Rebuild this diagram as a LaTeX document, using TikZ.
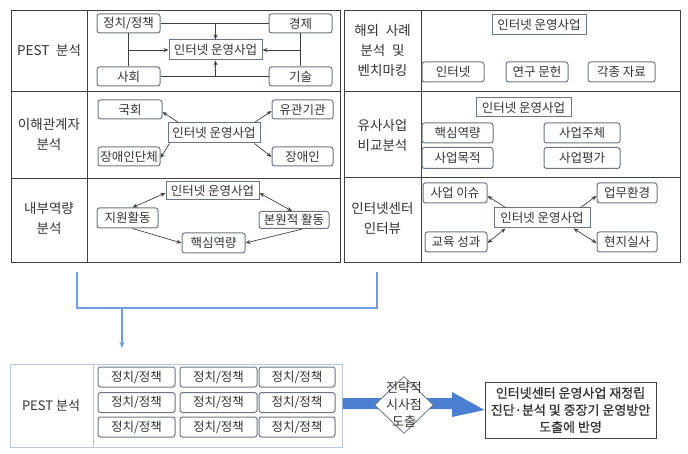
\documentclass[tikz,border=0pt]{standalone}
\usepackage{fontspec}
\setmainfont{Noto Sans CJK KR}
\newfontfamily\semib[FakeBold=0.8]{Noto Sans CJK KR}
\usetikzlibrary{arrows.meta,shapes.geometric,calc}
\definecolor{linec}{HTML}{404040}
\definecolor{boxc}{HTML}{6A7685}
\definecolor{txt}{HTML}{333333}
\definecolor{bluel}{HTML}{6D9EE0}
\definecolor{blueb}{HTML}{4A7FD4}
\definecolor{tabb}{HTML}{B4C7DC}
\tikzset{
  rbox/.style={draw=boxc, rounded corners=2.5pt, line width=1pt, inner sep=0pt,
    minimum height=20pt, text=txt, font=\fontsize{12.5}{14}\selectfont, fill=white},
  sbox/.style={rbox, rounded corners=0pt},
  lab/.style={text=txt, font=\fontsize{13.5}{20}\selectfont, align=center},
  tline/.style={draw=linec, line width=0.9pt},
  conn/.style={draw=linec, line width=0.7pt},
  arr/.style={conn, -{Stealth[length=5pt,width=4pt]}},
  darr/.style={conn, {Stealth[length=5pt,width=4pt]}-{Stealth[length=5pt,width=4pt]}},
  bconn/.style={draw=bluel, line width=1.2pt}
}
\begin{document}
\begin{tikzpicture}[x=1pt,y=-1pt]
\useasboundingbox (0,0) rectangle (688,454);

% ---------- left table ----------
\draw[tline] (11,10) rectangle (340,262);
\draw[tline] (87,10) -- (87,262);
\draw[tline] (11,91) -- (340,91);
\draw[tline] (11,178) -- (340,178);

% right table
\draw[tline] (344,10) rectangle (680,262);
\draw[tline] (421,10) -- (421,262);
\draw[tline] (344,91) -- (680,91);
\draw[tline] (344,177) -- (680,177);

% ---------- row 1 left: PEST ----------
\node[lab] (l1) at (49,50) {PEST\enspace 분석};
\node[rbox, minimum width=63pt, minimum height=19pt] (p1) at (128.5,23.5) {정치/정책};
\node[rbox, minimum width=63pt, minimum height=19pt] (p2) at (300.5,23.5) {경제};
\node[rbox, minimum width=63pt, minimum height=19pt] (p3) at (128.5,76.5) {사회};
\node[rbox, minimum width=63pt, minimum height=19pt] (p4) at (300.5,76.5) {기술};
\node[sbox, minimum width=93pt] (pc) at (215.5,50) {인터넷 운영사업};
\draw[conn] (p1.east) -- (p2.west);
\draw[conn] (p3.east) -- (p4.west);
\draw[conn] (p1.south) -- (p3.north);
\draw[conn] (p2.south) -- (p4.north);
\draw[arr] (pc.north |- p1.east) -- (pc.north);
\draw[arr] (pc.south |- p3.east) -- (pc.south);
\draw[arr] (p1.south |- pc.west) -- (pc.west);
\draw[arr] (p2.south |- pc.east) -- (pc.east);

% ---------- row 2 left: stakeholders ----------
\node[lab] (l2) at (49,134) {이해관계자\\분석};
\node[rbox, minimum width=64pt, minimum height=19pt] (s1) at (130,109.5) {국회};
\node[rbox, minimum width=61pt, minimum height=19pt] (s2) at (302.5,109.5) {유관기관};
\node[rbox, minimum width=62pt, minimum height=19pt] (s3) at (129,156.5) {장애인단체};
\node[rbox, minimum width=61pt, minimum height=19pt] (s4) at (302.5,156.5) {장애인};
\node[sbox, minimum width=92pt] (sc) at (214,133) {인터넷 운영사업};
\draw[arr] ([xshift=11pt]sc.north west) -- ([yshift=-2.5pt]s1.east);
\draw[arr] ([xshift=-6pt]sc.north east) -- ([yshift=-1.5pt]s2.west);
\draw[arr] ([xshift=2pt]sc.south west) -- ([yshift=-1.5pt]s3.east);
\draw[arr] ([xshift=-6pt]sc.south east) -- ([yshift=-0.5pt]s4.west);

% ---------- row 3 left: internal capability ----------
\node[lab] (l3) at (49,218) {내부역량\\분석};
\node[sbox, minimum width=93pt, minimum height=18pt] (ic) at (212.5,191) {인터넷 운영사업};
\node[rbox, minimum width=61pt] (i1) at (127.5,218) {지원활동};
\node[rbox, minimum width=70pt, minimum height=17pt] (i2) at (294,220) {본원적 활동};
\node[rbox, minimum width=63pt] (i3) at (213.5,243) {핵심역량};
\draw[darr] ([yshift=-2pt]ic.west) -- ([xshift=5pt]i1.north);
\draw[darr] ([yshift=-2pt]ic.east) -- ([xshift=-2pt]i2.north);
\draw[arr] ([xshift=5pt]i1.south) -- (i3.west);
\draw[arr] ([xshift=-27pt]i2.south east) -- (i3.east);

% ---------- row 1 right: overseas ----------
\node[lab] (r1) at (382.5,50) {해외\enspace 사례\\분석\enspace 및\\벤치마킹};
\node[sbox, minimum width=94pt] (oc) at (539,25) {인터넷 운영사업};
\node[rbox, minimum width=62pt] (o1) at (453,72) {인터넷};
\node[rbox, minimum width=62pt] (o2) at (537,72) {연구 문헌};
\node[rbox, minimum width=67pt] (o3) at (621.5,72) {각종 자료};

% ---------- row 2 right: similar business ----------
\node[lab] (r2) at (382.5,135) {유사사업\\비교분석};
\node[sbox, minimum width=95pt, minimum height=19pt] (bc) at (523.5,107.5) {인터넷 운영사업};
\node[rbox, minimum width=71pt] (b1) at (457.5,133) {핵심역량};
\node[rbox, minimum width=76pt] (b2) at (582,133) {사업주체};
\node[rbox, minimum width=71pt, minimum height=21pt] (b3) at (457.5,158) {사업목적};
\node[rbox, minimum width=76pt, minimum height=21pt] (b4) at (582,158) {사업평가};

% ---------- row 3 right: interview ----------
\node[lab] (r3) at (382.5,218) {인터넷센터\\인터뷰};
\node[sbox, minimum width=96pt] (vc) at (542,218) {인터넷 운영사업};
\node[rbox, minimum width=64pt] (v1) at (455,193) {사업 이슈};
\node[rbox, minimum width=60pt] (v2) at (627,193) {업무환경};
\node[rbox, minimum width=62pt] (v3) at (456,242) {교육 성과};
\node[rbox, minimum width=60pt] (v4) at (627,242) {현지실사};
\draw[arr] ([xshift=12pt]vc.north west) -- ([yshift=-3pt]v1.east);
\draw[arr] ([xshift=-10pt]vc.north east) -- ([yshift=-3pt]v2.west);
\draw[darr] ([xshift=12pt]vc.south west) -- ([yshift=-1pt]v3.east);
\draw[darr] ([xshift=-17pt]vc.south east) -- ([yshift=-1pt]v4.west);

% ---------- blue bracket ----------
\coordinate (ba) at (77,272);
\coordinate (bb) at (377,272);
\coordinate (bm) at (122,308);
\draw[bconn] (ba) -- (77,308) -- (377,308) -- (bb);

% ---------- bottom PEST table ----------
\draw[draw=tabb, line width=1pt] (10,364) rectangle (342,447);
\draw[draw=tabb, line width=1pt] (93,364) -- (93,447);
\node[lab, font=\fontsize{13}{15}\selectfont] (bl) at (51,406) {PEST 분석};
\foreach \c/\x/\w in {1/136.5/77,2/218.5/77,3/297/76}{
  \foreach \r/\y in {1/377,2/402.5,3/427}{
    \node[rbox, minimum width=\w pt, minimum height=20pt] (g\r\c) at (\x,\y) {정치/정책};
  }
}
\draw[bconn, -{Stealth[length=6pt,width=5pt]}] (bm) -- (122,348);

% thick arrow
\node[draw=linec, line width=0.9pt, fill=white, minimum width=171pt, minimum height=56pt,
  inner sep=0pt, text=txt, align=center, font=\semib\fontsize{13}{17}\selectfont] (fb) at (570.5,410)
  {인터넷센터 운영사업 재정립\\진단·분석 및 중장기 운영방안\\도출에 반영};
\fill[blueb] (342.5,398) -- (452,398) -- (452,392) -- (fb.west) -- (452,417) -- (452,409) -- (342.5,409) -- cycle;
\node[diamond, draw=boxc, line width=0.8pt, fill=white, minimum width=59pt, minimum height=57pt,
  inner sep=0pt, aspect=1] (dm) at (404,405) {};
\node[text=txt, align=center, font=\fontsize{13}{17}\selectfont] (dt) at (dm.center) {전략적\\시사점\\도출};
\end{tikzpicture}
\end{document}
